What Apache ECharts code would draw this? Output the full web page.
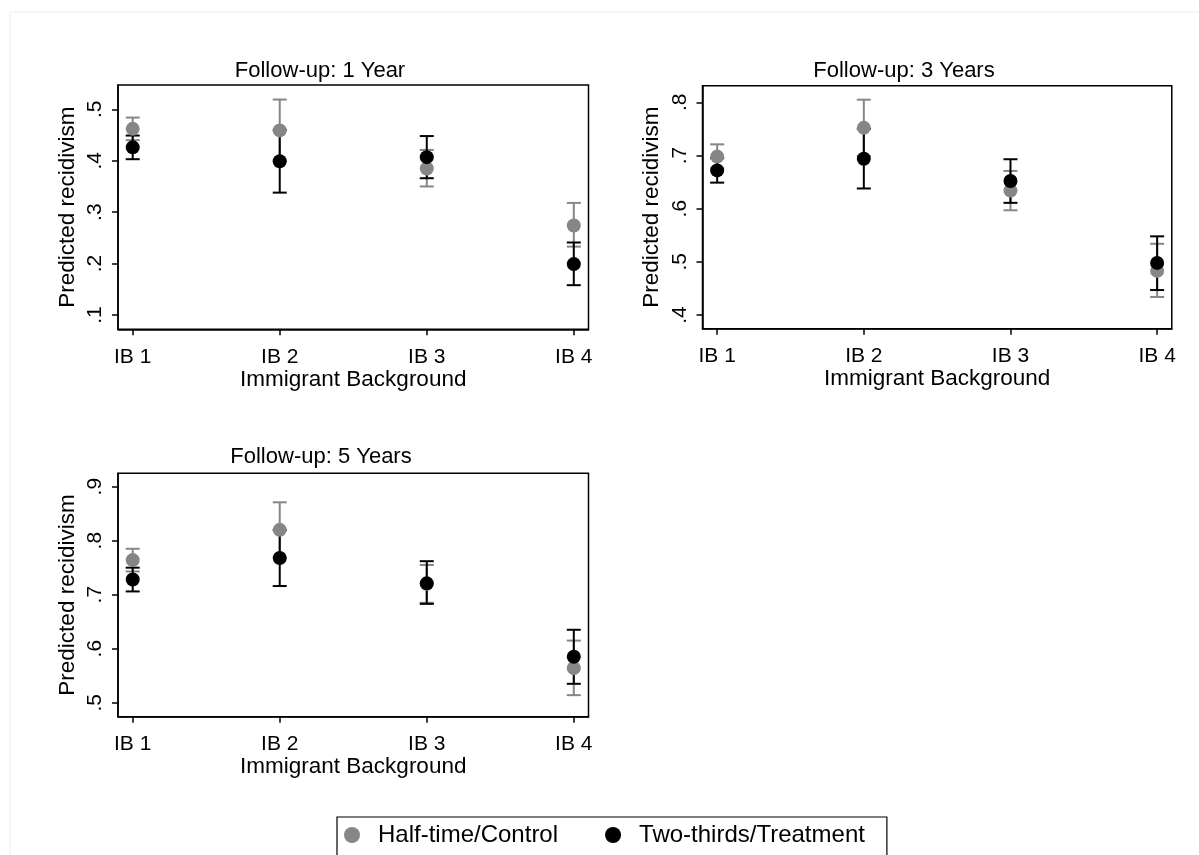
<!DOCTYPE html>
<html>
<head>
<meta charset="utf-8">
<script src="https://cdn.jsdelivr.net/npm/echarts@6/dist/echarts.min.js"></script>
<style>
  html, body { margin: 0; padding: 0; background: #fff; }
  #chart { width: 1199px; height: 855px; }
</style>
</head>
<body>
<div id="chart"></div>
<script>
// categories on the x axis
const categories = ['IB 1', 'IB 2', 'IB 3', 'IB 4'];
const seriesNames = ['Half-time/Control', 'Two-thirds/Treatment'];

// Follow-up: 1 Year
const y1Ctrl   = [0.462, 0.459, 0.385, 0.274];
const y1CtrlLo = [0.440, 0.399, 0.350, 0.233];
const y1CtrlHi = [0.484, 0.519, 0.421, 0.318];
const y1Trt    = [0.426, 0.399, 0.407, 0.199];
const y1TrtLo  = [0.403, 0.338, 0.366, 0.158];
const y1TrtHi  = [0.449, 0.460, 0.448, 0.241];
const y1Ticks  = [0.1, 0.2, 0.3, 0.4, 0.5];
const y1Range  = [0.0722, 0.5473];

// Follow-up: 3 Years
const y3Ctrl   = [0.698, 0.752, 0.634, 0.483];
const y3CtrlLo = [0.676, 0.699, 0.597, 0.434];
const y3CtrlHi = [0.721, 0.805, 0.671, 0.534];
const y3Trt    = [0.672, 0.694, 0.652, 0.498];
const y3TrtLo  = [0.649, 0.638, 0.611, 0.447];
const y3TrtHi  = [0.695, 0.750, 0.693, 0.548];
const y3Ticks  = [0.4, 0.5, 0.6, 0.7, 0.8];
const y3Range  = [0.3743, 0.8313];

// Follow-up: 5 Years
const y5Ctrl   = [0.764, 0.820, 0.720, 0.564];
const y5CtrlLo = [0.743, 0.769, 0.685, 0.514];
const y5CtrlHi = [0.785, 0.871, 0.755, 0.615];
const y5Trt    = [0.728, 0.768, 0.721, 0.585];
const y5TrtLo  = [0.706, 0.716, 0.683, 0.535];
const y5TrtHi  = [0.750, 0.820, 0.762, 0.635];
const y5Ticks  = [0.5, 0.6, 0.7, 0.8, 0.9];
const y5Range  = [0.4741, 0.9247];

const GRAY = '#868686';
const BLACK = '#000000';
const FONT = '"Liberation Sans", Arial, sans-serif';

const myChart = echarts.init(document.getElementById('chart'));

const panels = [
  { title: 'Follow-up: 1 Year',  grid: { left: 118, top: 85, width: 470.5, height: 244.3 }, tx: 320, ty: 71,
    ctrl: y1Ctrl, ctrlLo: y1CtrlLo, ctrlHi: y1CtrlHi, trt: y1Trt, trtLo: y1TrtLo, trtHi: y1TrtHi, ticks: y1Ticks, range: y1Range },
  { title: 'Follow-up: 3 Years', grid: { left: 702.5, top: 85.7, width: 469.3, height: 243 }, tx: 904, ty: 71,
    ctrl: y3Ctrl, ctrlLo: y3CtrlLo, ctrlHi: y3CtrlHi, trt: y3Trt, trtLo: y3TrtLo, trtHi: y3TrtHi, ticks: y3Ticks, range: y3Range },
  { title: 'Follow-up: 5 Years', grid: { left: 118, top: 473.3, width: 470.5, height: 243.4 }, tx: 321, ty: 457,
    ctrl: y5Ctrl, ctrlLo: y5CtrlLo, ctrlHi: y5CtrlHi, trt: y5Trt, trtLo: y5TrtLo, trtHi: y5TrtHi, ticks: y5Ticks, range: y5Range }
];

// vertical CI line with caps
function capRender(color) {
  return function (params, api) {
    const x = api.value(0);
    const top = api.coord([x, api.value(2)]);
    const bot = api.coord([x, api.value(1)]);
    const w = 7;
    const style = { stroke: color, lineWidth: 2, fill: null };
    return {
      type: 'group',
      children: [
        { type: 'line', shape: { x1: top[0], y1: top[1], x2: bot[0], y2: bot[1] }, style: style },
        { type: 'line', shape: { x1: top[0] - w, y1: top[1], x2: top[0] + w, y2: top[1] }, style: style },
        { type: 'line', shape: { x1: bot[0] - w, y1: bot[1], x2: bot[0] + w, y2: bot[1] }, style: style }
      ]
    };
  };
}

const grids = [], xAxes = [], yAxes = [], series = [], graphics = [];

// faint outer frame of the exported graph
graphics.push({ type: 'rect', shape: { x: 10, y: 12, width: 1400, height: 1000 }, style: { fill: null, stroke: '#eeeeee', lineWidth: 1 }, silent: true });

panels.forEach(function (p, i) {
  grids.push(Object.assign({ show: true, borderColor: '#000', borderWidth: 1.5, backgroundColor: '#fff' }, p.grid));
  xAxes.push({
    type: 'value', gridIndex: i, min: 0.9, max: 4.1,
    name: 'Immigrant Background', nameLocation: 'middle', nameGap: 39,
    nameTextStyle: { fontFamily: FONT, fontSize: 22.5, color: '#000' },
    axisLine: { show: true, lineStyle: { color: '#000', width: 1.5 } },
    axisTick: { show: true, length: 6, customValues: [1, 2, 3, 4], lineStyle: { color: '#000', width: 1.5 } },
    axisLabel: {
      customValues: [1, 2, 3, 4], margin: 17,
      fontFamily: FONT, fontSize: 21, color: '#000',
      formatter: function (v) { return categories[Math.round(v) - 1]; }
    },
    splitLine: { show: false }
  });
  yAxes.push({
    type: 'value', gridIndex: i, min: p.range[0], max: p.range[1],
    name: 'Predicted recidivism', nameLocation: 'middle', nameGap: 39,
    nameTextStyle: { fontFamily: FONT, fontSize: 22.5, color: '#000' },
    axisLine: { show: true, lineStyle: { color: '#000', width: 1.5 } },
    axisTick: { show: true, length: 6, customValues: p.ticks, lineStyle: { color: '#000', width: 1.5 } },
    axisLabel: {
      customValues: p.ticks, rotate: 90, margin: 12,
      fontFamily: FONT, fontSize: 21, color: '#000',
      formatter: function (v) { return (Math.round(v * 10) / 10).toFixed(1).replace(/^0/, ''); }
    },
    splitLine: { show: false }
  });
  graphics.push({
    type: 'text', x: p.tx, y: p.ty,
    style: { text: p.title, fontFamily: FONT, fontSize: 22, fill: '#000', textAlign: 'center', textVerticalAlign: 'middle' }
  });

  const ctrlCI = categories.map(function (c, k) { return [k + 1, p.ctrlLo[k], p.ctrlHi[k]]; });
  const trtCI = categories.map(function (c, k) { return [k + 1, p.trtLo[k], p.trtHi[k]]; });
  series.push({ type: 'custom', name: 'ci-ctrl-' + i, xAxisIndex: i, yAxisIndex: i, renderItem: capRender(GRAY), data: ctrlCI, encode: { x: 0, y: [1, 2] }, silent: true });
  series.push({ type: 'custom', name: 'ci-trt-' + i, xAxisIndex: i, yAxisIndex: i, renderItem: capRender(BLACK), data: trtCI, encode: { x: 0, y: [1, 2] }, silent: true });
  series.push({
    type: 'scatter', name: seriesNames[0], xAxisIndex: i, yAxisIndex: i, symbol: 'circle', symbolSize: 14,
    itemStyle: { color: GRAY, opacity: 1 },
    data: categories.map(function (c, k) { return [k + 1, p.ctrl[k]]; })
  });
  series.push({
    type: 'scatter', name: seriesNames[1], xAxisIndex: i, yAxisIndex: i, symbol: 'circle', symbolSize: 14,
    itemStyle: { color: BLACK, opacity: 1 },
    data: categories.map(function (c, k) { return [k + 1, p.trt[k]]; })
  });
});

const option = {
  backgroundColor: '#fff',
  animation: false,
  textStyle: { fontFamily: FONT },
  legend: {
    data: seriesNames,
    left: 337, top: 817,
    orient: 'horizontal',
    icon: 'circle', itemWidth: 16, itemHeight: 16, itemGap: 47,
    padding: [6, 22, 30, 7],
    borderColor: '#000', borderWidth: 1.2,
    textStyle: { fontFamily: FONT, fontSize: 24, color: '#000', padding: [0, 0, 0, 13] },
    selectedMode: false
  },
  grid: grids,
  xAxis: xAxes,
  yAxis: yAxes,
  series: series,
  graphic: graphics
};

myChart.setOption(option);
</script>
</body>
</html>
